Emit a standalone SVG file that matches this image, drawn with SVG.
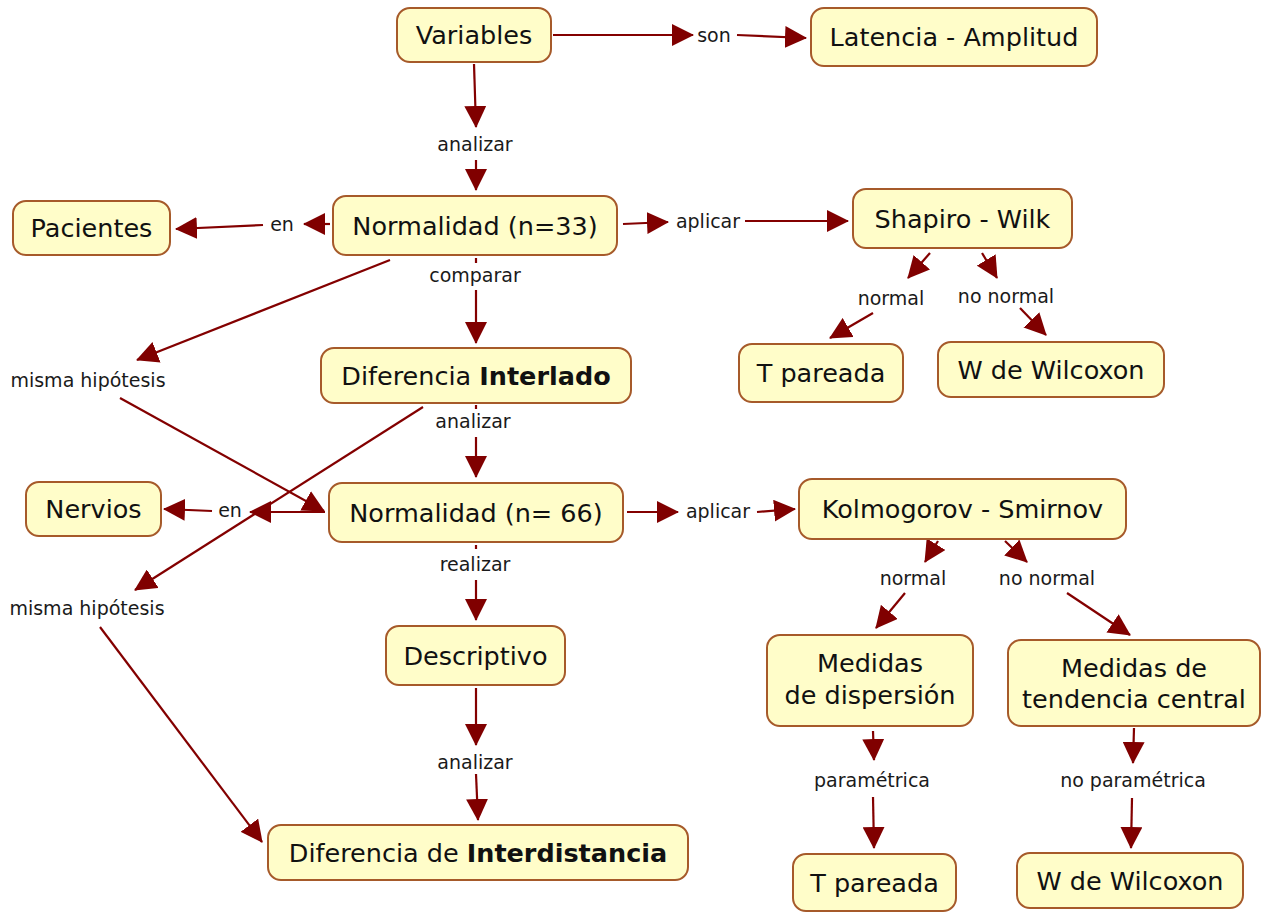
<svg xmlns="http://www.w3.org/2000/svg" width="1262" height="913" viewBox="0 0 1262 913">
<style>
.node rect{fill:#FFFDC9;stroke:#A65A2A;stroke-width:2}
.node text{font-family:"DejaVu Sans","Liberation Sans",sans-serif;font-size:25.5px;fill:#111;text-anchor:middle}
.lbl{font-family:"DejaVu Sans","Liberation Sans",sans-serif;font-size:19px;fill:#1a1a1a;text-anchor:middle}
.b{font-weight:bold}
#connectors line{stroke:#830000;stroke-width:2.2;fill:none;marker-end:url(#ah)}
#connectors line.plain{marker-end:none}
</style>
<defs>
<marker id="ah" markerUnits="userSpaceOnUse" markerWidth="22" markerHeight="22" viewBox="0 0 22 22" refX="21" refY="11" orient="auto">
<path d="M0,0 L22,11 L0,22 z" fill="#800000"/>
</marker>
</defs>
<rect width="1262" height="913" fill="#ffffff"/>
<g id="connectors">
<line x1="553" y1="35" x2="693" y2="35"/>
<line x1="737" y1="35" x2="806" y2="38"/>
<line x1="474" y1="64" x2="476" y2="127"/>
<line x1="476" y1="160" x2="476" y2="190"/>
<line x1="330" y1="224" x2="304" y2="224"/>
<line x1="263" y1="225" x2="176" y2="229"/>
<line x1="623" y1="224" x2="668" y2="222"/>
<line x1="745" y1="221" x2="848" y2="221"/>
<line class="plain" x1="476" y1="258" x2="476" y2="263"/>
<line x1="476" y1="290" x2="476" y2="343"/>
<line x1="390" y1="260" x2="137" y2="360"/>
<line x1="120" y1="398" x2="324" y2="511"/>
<line x1="930" y1="253" x2="908" y2="278"/>
<line x1="873" y1="313" x2="830" y2="338"/>
<line x1="982" y1="253" x2="997" y2="278"/>
<line x1="1020" y1="308" x2="1046" y2="335"/>
<line class="plain" x1="476" y1="405" x2="476" y2="409"/>
<line x1="476" y1="437" x2="476" y2="477"/>
<line x1="423" y1="407" x2="135" y2="590"/>
<line x1="100" y1="627" x2="262" y2="842"/>
<line x1="325" y1="512" x2="250" y2="512"/>
<line x1="212" y1="511" x2="164" y2="509"/>
<line x1="627" y1="512" x2="678" y2="512"/>
<line x1="757" y1="512" x2="795" y2="509"/>
<line class="plain" x1="476" y1="545" x2="476" y2="549"/>
<line x1="476" y1="580" x2="476" y2="620"/>
<line x1="938" y1="541" x2="925" y2="562"/>
<line x1="905" y1="593" x2="876" y2="628"/>
<line x1="1005" y1="541" x2="1027" y2="562"/>
<line x1="1067" y1="593" x2="1130" y2="635"/>
<line x1="476" y1="688" x2="476" y2="745"/>
<line x1="476" y1="774" x2="478" y2="820"/>
<line x1="873" y1="731" x2="874" y2="760"/>
<line x1="873" y1="797" x2="874" y2="848"/>
<line x1="1134" y1="728" x2="1133" y2="763"/>
<line x1="1132" y1="798" x2="1131" y2="848"/>
</g>
<g id="labels">
<text class="lbl" x="714" y="42">son</text>
<text class="lbl" x="475" y="151">analizar</text>
<text class="lbl" x="282" y="231">en</text>
<text class="lbl" x="708" y="228">aplicar</text>
<text class="lbl" x="475" y="282">comparar</text>
<text class="lbl" x="891" y="305">normal</text>
<text class="lbl" x="1006" y="303">no normal</text>
<text class="lbl" x="88" y="387">misma hipótesis</text>
<text class="lbl" x="473" y="428">analizar</text>
<text class="lbl" x="230" y="517">en</text>
<text class="lbl" x="718" y="518">aplicar</text>
<text class="lbl" x="475" y="571">realizar</text>
<text class="lbl" x="913" y="585">normal</text>
<text class="lbl" x="1047" y="585">no normal</text>
<text class="lbl" x="87" y="615">misma hipótesis</text>
<text class="lbl" x="475" y="769">analizar</text>
<text class="lbl" x="872" y="787">paramétrica</text>
<text class="lbl" x="1133" y="787">no paramétrica</text>
</g>
<g id="n-variables" class="node"><rect x="397" y="8" width="154" height="54" rx="13"/><text x="474" y="44">Variables</text></g>
<g id="n-latencia" class="node"><rect x="811" y="8" width="286" height="58" rx="13"/><text x="954" y="46">Latencia - Amplitud</text></g>
<g id="n-pacientes" class="node"><rect x="13" y="201" width="157" height="54" rx="13"/><text x="91.5" y="237">Pacientes</text></g>
<g id="n-norm33" class="node"><rect x="333" y="196" width="284" height="59" rx="13"/><text x="475" y="234.5">Normalidad (n=33)</text></g>
<g id="n-shapiro" class="node"><rect x="853" y="189" width="219" height="59" rx="13"/><text x="962.5" y="227.5">Shapiro - Wilk</text></g>
<g id="n-tpareada1" class="node"><rect x="739" y="344" width="164" height="58" rx="13"/><text x="821" y="382">T pareada</text></g>
<g id="n-wilcoxon1" class="node"><rect x="938" y="342" width="226" height="55" rx="13"/><text x="1051" y="378.5">W de Wilcoxon</text></g>
<g id="n-interlado" class="node"><rect x="321" y="348" width="310" height="55" rx="13"/><text x="476" y="384.5">Diferencia <tspan class="b">Interlado</tspan></text></g>
<g id="n-nervios" class="node"><rect x="26" y="482" width="135" height="54" rx="13"/><text x="93.5" y="518">Nervios</text></g>
<g id="n-norm66" class="node"><rect x="329" y="483" width="294" height="59" rx="13"/><text x="476" y="521.5">Normalidad (n= 66)</text></g>
<g id="n-kolmogorov" class="node"><rect x="799" y="479" width="327" height="60" rx="13"/><text x="962.5" y="518">Kolmogorov - Smirnov</text></g>
<g id="n-descriptivo" class="node"><rect x="386" y="626" width="179" height="59" rx="13"/><text x="475.5" y="664.5">Descriptivo</text></g>
<g id="n-dispersion" class="node"><rect x="767" y="635" width="206" height="91" rx="13"/><text x="870" y="672">Medidas</text><text x="870" y="704">de dispersión</text></g>
<g id="n-tendencia" class="node"><rect x="1008" y="640" width="252" height="86" rx="13"/><text x="1134" y="677">Medidas de</text><text x="1134" y="708">tendencia central</text></g>
<g id="n-interdistancia" class="node"><rect x="268" y="825" width="420" height="55" rx="13"/><text x="478" y="861.5">Diferencia de <tspan class="b">Interdistancia</tspan></text></g>
<g id="n-tpareada2" class="node"><rect x="793" y="854" width="163" height="57" rx="13"/><text x="874.5" y="891.5">T pareada</text></g>
<g id="n-wilcoxon2" class="node"><rect x="1017" y="853" width="226" height="55" rx="13"/><text x="1130" y="889.5">W de Wilcoxon</text></g>
</svg>
